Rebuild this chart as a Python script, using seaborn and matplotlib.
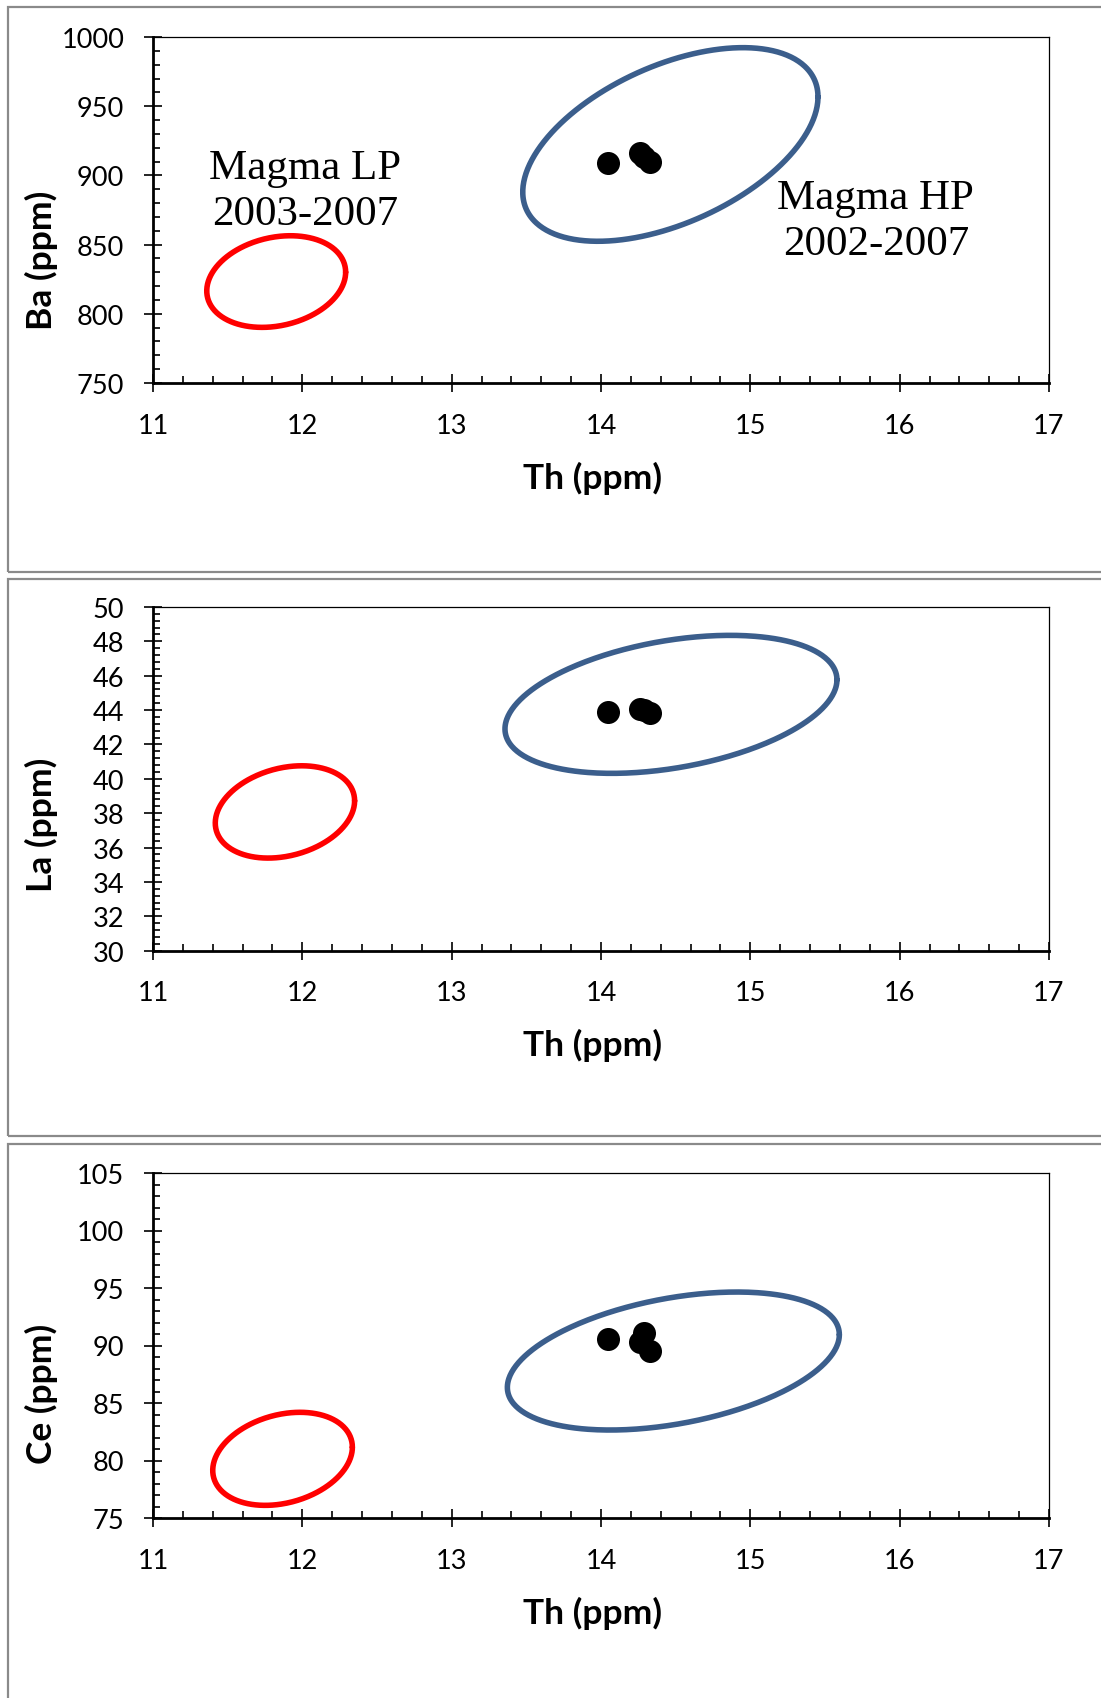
import numpy as np
import pandas as pd
import seaborn as sns
import matplotlib
matplotlib.use("Agg")
import matplotlib.pyplot as plt
from matplotlib.ticker import MultipleLocator
from matplotlib.patches import Rectangle

# ---------------- data ----------------
th = [14.045, 14.26, 14.285, 14.33]
ba = [909.0, 916.0, 913.0, 909.5]
la = [43.9, 44.05, 44.0, 43.85]
ce = [90.55, 90.3, 91.1, 89.55]

# ellipse outlines: [xmin, xmax, ymin, ymax, x at topmost point]
ba_lp = [11.36, 12.29, 790.2, 856.4, 11.92]
ba_hp = [13.476, 15.453, 852.4, 992.3, 14.95]
la_lp = [11.417, 12.35, 35.39, 40.76, 11.996]
la_hp = [13.357, 15.58, 40.32, 48.35, 14.864]
ce_lp = [11.40, 12.335, 76.1, 84.19, 11.984]
ce_hp = [13.373, 15.596, 82.65, 94.65, 14.909]

ylabels = ["Ba (ppm)", "La (ppm)", "Ce (ppm)"]
xlabel = "Th (ppm)"
ylims = [(750, 1000), (30, 50), (75, 105)]
ymajor = [50, 2, 5]
yminor = [10, 0.4, 1]
lp_text = "Magma LP\n2003-2007"
hp_text = "Magma HP\n2002-2007"

# ---------------- style ----------------
sns.set_style("white")
plt.rcParams["font.family"] = ["Lato", "DejaVu Sans"]

W, H = 1101, 1699
fig = plt.figure(figsize=(W / 100, H / 100), dpi=100)

# panel frames (pixel -> fraction)
frames = [(8, 8, 573), (8, 580, 1137), (8, 1145, 1720)]
for x0, ytop, ybot in frames:
    fig.add_artist(Rectangle((x0 / W, 1 - ybot / H), (1120 - x0) / W, (ybot - ytop) / H,
                             transform=fig.transFigure, fill=False,
                             edgecolor="#8a8a8a", linewidth=1.6, clip_on=False))

axes_px = [(38, 384), (608, 951.7), (1174, 1519)]
ylab_y = [0.358, 0.369, 0.362]

RED = "#FF0000"
BLUE = "#3B5E8C"


def ellipse(p):
    xmin, xmax, ymin, ymax, xtop = p
    cx, rx = (xmin + xmax) / 2, (xmax - xmin) / 2
    cy, ry = (ymin + ymax) / 2, (ymax - ymin) / 2
    d = np.arccos(np.clip((xtop - cx) / rx, -1, 1))
    t = np.linspace(0, 2 * np.pi, 400)
    return cx + rx * np.cos(t), cy + ry * np.cos(t - d)


yvals = [ba, la, ce]
lps = [ba_lp, la_lp, ce_lp]
hps = [ba_hp, la_hp, ce_hp]

for i in range(3):
    top, bot = axes_px[i]
    ax = fig.add_axes([153 / W, 1 - bot / H, 896 / W, (bot - top) / H])
    df = pd.DataFrame({"Th": th, "Y": yvals[i]})
    for p, c in ((lps[i], RED), (hps[i], BLUE)):
        ex, ey = ellipse(p)
        ax.plot(ex, ey, color=c, linewidth=4.0, solid_capstyle="round", zorder=2)
    sns.scatterplot(data=df, x="Th", y="Y", ax=ax, color="black", s=275,
                    linewidth=0, zorder=3, legend=False)
    ax.set_xlim(11, 17)
    ax.set_ylim(*ylims[i])
    ax.xaxis.set_major_locator(MultipleLocator(1))
    ax.xaxis.set_minor_locator(MultipleLocator(0.2))
    ax.yaxis.set_major_locator(MultipleLocator(ymajor[i]))
    ax.yaxis.set_minor_locator(MultipleLocator(yminor[i]))
    ax.tick_params(which="major", direction="inout", length=13.5, width=1.2,
                   labelsize=19.5, color="black", labelcolor="black")
    ax.tick_params(axis="x", which="major", pad=14.5)
    ax.tick_params(axis="y", which="major", pad=14)
    ax.tick_params(which="minor", direction="in", length=5, width=1.2, color="black")
    ax.tick_params(bottom=True, left=True, which="both")
    for s in ("left", "bottom"):
        ax.spines[s].set_linewidth(2.0)
        ax.spines[s].set_color("black")
    for s in ("top", "right"):
        ax.spines[s].set_linewidth(0.9)
        ax.spines[s].set_color("black")
    ax.set_xlabel(xlabel, fontsize=25.5, fontweight="bold", color="black")
    ax.set_ylabel(ylabels[i], fontsize=25.5, fontweight="bold", color="black")
    ax.xaxis.label.set_va("center")
    ax.yaxis.label.set_va("center")
    ax.xaxis.set_label_coords(0.49, -94 / (bot - top))
    ax.yaxis.set_label_coords(-112 / 896, ylab_y[i])
    ax.set_facecolor("white")

    if i == 0:
        ax.text(12.02, 889, lp_text, ha="center", va="center", fontsize=31,
                family="Liberation Serif", linespacing=1.26, color="black")
        ax.text(15.84, 867, hp_text, ha="center", va="center", fontsize=31,
                family="Liberation Serif", linespacing=1.26, color="black")

fig.savefig("out.png", dpi=100, facecolor="white")
